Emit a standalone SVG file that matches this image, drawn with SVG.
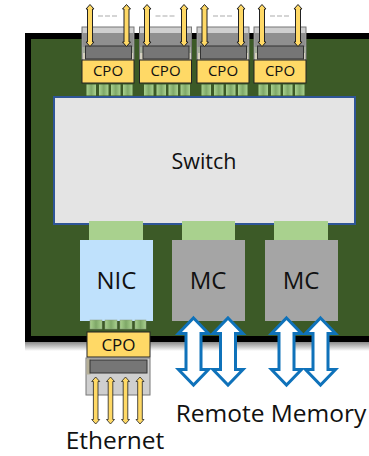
<svg xmlns="http://www.w3.org/2000/svg" width="369" height="456" viewBox="0 0 369 456">
<defs>
<linearGradient id="sh" x1="0" y1="0" x2="0" y2="1"><stop offset="0" stop-color="#8a8a8a"/><stop offset="1" stop-color="#fff"/></linearGradient>
<linearGradient id="pad" x1="0" y1="0" x2="1" y2="0"><stop offset="0" stop-color="#a9d18e"/><stop offset=".5" stop-color="#7fa868"/><stop offset="1" stop-color="#a9d18e"/></linearGradient>
<path id="ya" d="M0 0L4 4.500H2.500V37.500H4L0 42L-4 37.500H-2.500V4.500H-4Z" fill="#ffd966" stroke="#222" stroke-width="1"/>
<path id="ba" d="M0 0L15 15.500H7.500V51.500H15L0 67L-15 51.500H-7.500V15.500H-15Z" fill="#fff" stroke="#0f72ba" stroke-width="3"/>
<g id="cpo">
<rect x="0" y="0" width="52" height="33" fill="#cfcfcf" stroke="#777" stroke-width="1"/>
<rect x="0.500" y="6" width="51" height="14" fill="#8f8f8f"/>
<rect x="0.500" y="20" width="51" height="6" fill="#a5ad9c"/>
<rect x="1" y="26" width="50" height="7" fill="#d6d1bd"/>
<rect x="3.500" y="19" width="46" height="13" fill="#767676" stroke="#333" stroke-width="1"/>
<rect x="0" y="33" width="52" height="23" fill="#ffd966" stroke="#222" stroke-width="1"/>
<text x="26" y="49" class="t" font-size="15">CPO</text>
<rect x="4.500" y="57.500" width="9.500" height="11" fill="url(#pad)"/>
<rect x="17" y="57.500" width="9.500" height="11" fill="url(#pad)"/>
<rect x="29" y="57.500" width="9.500" height="11" fill="url(#pad)"/>
<rect x="41" y="57.500" width="9.500" height="11" fill="url(#pad)"/>
<path d="M16 -11h20" stroke="#c8c8c8" stroke-width="1.500" stroke-dasharray="5 2"/>
</g>
</defs>
<style>
.t{font-family:"Open Sans","Noto Sans",sans-serif;fill:#111;text-anchor:middle}
.tab{fill:#a9d18e}
.mc{fill:#a5a5a5}
</style>
<g id="board">
<rect x="25" y="342" width="344" height="9" fill="url(#sh)"/>
<rect x="25" y="33" width="344" height="309" fill="#000"/>
<rect x="31" y="39" width="338" height="297" fill="#3c5a27"/>
</g>
<g id="switch">
<rect x="54" y="97" width="301" height="127" fill="#e4e4e4" stroke="#2f5597" stroke-width="2"/>
<text x="204" y="169" class="t" font-size="21.500">Switch</text>
</g>
<g id="nic">
<rect x="89" y="221" width="54" height="19" class="tab"/>
<rect x="80" y="240" width="73" height="81" fill="#bfe1fc"/>
<text x="116.500" y="289" class="t" font-size="24">NIC</text>
</g>
<g id="mc1">
<rect x="182" y="221" width="53" height="19" class="tab"/>
<rect x="172" y="240" width="73" height="81" class="mc"/>
<text x="208" y="289" class="t" font-size="24">MC</text>
</g>
<g id="mc2">
<rect x="274" y="221" width="54" height="19" class="tab"/>
<rect x="265" y="240" width="73" height="81" class="mc"/>
<text x="301" y="289" class="t" font-size="24">MC</text>
</g>
<g id="cpo-top-1"><use href="#cpo" x="82" y="27"/></g>
<g id="cpo-top-2"><use href="#cpo" x="139.500" y="27"/></g>
<g id="cpo-top-3"><use href="#cpo" x="197" y="27"/></g>
<g id="cpo-top-4"><use href="#cpo" x="254" y="27"/></g>
<g id="cpo-bottom">
<rect x="90" y="320" width="12" height="9" fill="url(#pad)" stroke="#8a9a80" stroke-width=".5"/>
<rect x="105" y="320" width="12" height="9" fill="url(#pad)" stroke="#8a9a80" stroke-width=".5"/>
<rect x="120" y="320" width="12" height="9" fill="url(#pad)" stroke="#8a9a80" stroke-width=".5"/>
<rect x="135" y="320" width="11" height="9" fill="url(#pad)" stroke="#8a9a80" stroke-width=".5"/>
<rect x="86" y="358" width="64" height="37" fill="#cfcfcf" stroke="#777" stroke-width="1"/>
<rect x="86.500" y="358.500" width="4" height="16" fill="#b5af97"/>
<rect x="90" y="360" width="57" height="13" fill="#767676" stroke="#333" stroke-width="1"/>
<rect x="87" y="332" width="63" height="25" fill="#ffd966" stroke="#222" stroke-width="1"/>
<text x="118.500" y="351" class="t" font-size="17">CPO</text>
</g>
<g id="connectors">
<use href="#ya" x="90" y="4.500"/><use href="#ya" x="126.500" y="4.500"/>
<use href="#ya" x="147" y="4.500"/><use href="#ya" x="184" y="4.500"/>
<use href="#ya" x="204.500" y="4.500"/><use href="#ya" x="241" y="4.500"/>
<use href="#ya" x="262" y="4.500"/><use href="#ya" x="298" y="4.500"/>
<path d="M95.700 377L99.700 381.500H98V419.500H99.700L95.700 424L91.700 419.500H93.400V381.500H91.700Z" fill="#ffd966" stroke="#222" stroke-width=".8"/>
<path d="M110.500 377L114.500 381.500H112.800V419.500H114.500L110.500 424L106.500 419.500H108.200V381.500H106.500Z" fill="#ffd966" stroke="#222" stroke-width=".8"/>
<path d="M125.500 377L129.500 381.500H127.800V419.500H129.500L125.500 424L121.500 419.500H123.200V381.500H121.500Z" fill="#ffd966" stroke="#222" stroke-width=".8"/>
<path d="M140 377L144 381.500H142.300V419.500H144L140 424L136 419.500H137.700V381.500H136Z" fill="#ffd966" stroke="#222" stroke-width=".8"/>
<use href="#ba" x="193.500" y="318"/><use href="#ba" x="228" y="318"/>
<use href="#ba" x="286.500" y="318"/><use href="#ba" x="320.500" y="318"/>
</g>
<g id="labels">
<text x="271" y="422" class="t" font-size="24.500">Remote Memory</text>
<text x="115" y="449" class="t" font-size="24.500">Ethernet</text>
</g>
</svg>
